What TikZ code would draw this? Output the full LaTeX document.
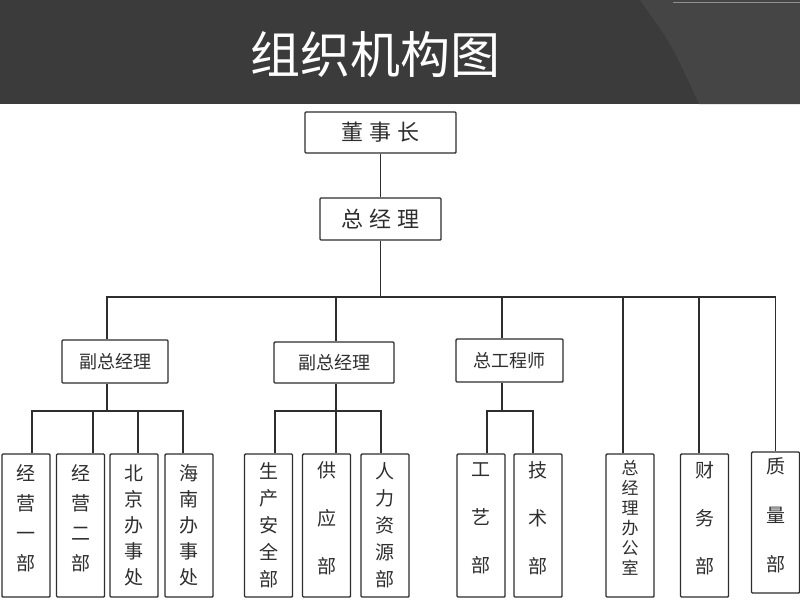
\documentclass[tikz,border=0pt]{standalone}
\usepackage{fontspec}
\setmainfont{Noto Sans CJK SC}
\usetikzlibrary{calc}
\definecolor{barbg}{HTML}{3B3B3B}
\definecolor{barhi}{HTML}{454545}
\definecolor{ink}{HTML}{2E2E2E}
\newcommand{\vsp}[2]{\fontsize{#1}{#2}\selectfont}
\tikzset{
  post/.style={draw=ink,line width=1.4pt,fill=white,inner sep=0pt,text=ink,rounded corners=1pt},
  head/.style={post,font=\vsp{22}{22}},
  vice/.style={post,font=\vsp{18}{18}},
  dept/.style={post,minimum width=48,minimum height=143,align=center,text depth=16},
  link/.style={draw=ink,line width=1.4pt},
}

\begin{document}
\begin{tikzpicture}[x=1pt,y=-1pt]
      \useasboundingbox(0,0)rectangle(800,600);
      \fill[white](0,0)rectangle(800,600);
      % title bar
      \fill[barbg](0,0)rectangle(800,104);
      \fill[barhi](640,0)..controls(672,45)..(699,104)--(800,104)--(800,0)--cycle;
      \draw[barhi!60!white,line width=0.8](673,2)--(800,2);
      \node[text=white,font=\vsp{50}{50}](title)at(375,55){组织机构图};
      % top
      \node[head,minimum width=151,minimum height=41](dsz)at(380.5,132.5){董\hspace{6pt}事\hspace{6pt}长};
      \node[head,minimum width=121,minimum height=42](zjl)at(380.5,219){总\hspace{6pt}经\hspace{6pt}理};
      \coordinate(bus)at(380.5,297);
      % second level
      \node[vice,minimum width=106,minimum height=43](fz1)at(115,361.5){副总经理};
      \node[vice,minimum width=120,minimum height=41](fz2)at(334,362.5){副总经理};
      \node[vice,minimum width=107,minimum height=43](zgc)at(509.5,360.5){总工程师};
      % departments
      \node[dept,font=\vsp{19}{30}](jy1)at(26,525.5){经\\营\\一\\部};
      \node[dept,font=\vsp{19}{30}](jy2)at(80.5,525.5){经\\营\\二\\部};
      \node[dept,font=\vsp{19}{26},text depth=2](bj)at(134,525.5){北\\京\\办\\事\\处};
      \node[dept,font=\vsp{19}{26},text depth=2](hn)at(189,525.5){海\\南\\办\\事\\处};
      \node[dept,font=\vsp{19}{27},text depth=2](sc)at(268.5,525.5){生\\产\\安\\全\\部};
      \node[dept,font=\vsp{19}{48}](gy)at(326.5,525.5){供\\应\\部};
      \node[dept,font=\vsp{19}{27},text depth=2](rl)at(385,525.5){人\\力\\资\\源\\部};
      \node[dept,font=\vsp{19}{48}](gyb)at(481,525.5){工\\艺\\部};
      \node[dept,font=\vsp{19}{48}](js)at(538,525.5){技\\术\\部};
      \node[dept,font=\vsp{17}{20}](zb)at(630,525.5){总\\经\\理\\办\\公\\室};
      \node[dept,font=\vsp{19}{48}](cw)at(704.5,525.5){财\\务\\部};
      \node[dept,font=\vsp{19}{49},minimum height=141](zl)at(775.5,522.5){质\\量\\部};
      % connectors
      \draw[link](dsz)--(zjl);
      \draw[link](zjl.south)--(bus);
      \draw[link]([xshift=-8]fz1.north)|-(bus)-|(zl.north);
      \foreach \N/\D in{fz2/2, zgc/-7.5, zb/-7, cw/-5.5}{
        \draw[link]([xshift=\D]\N.north)|-(bus);
      }
      \coordinate(b1)at(107,411);\coordinate(b2)at(336,411);\coordinate(b3)at(502,411);
      \draw[link](b1|-fz1.south)--(b1) (b2|-fz2.south)--(b2) (b3|-zgc.south)--(b3);
      \foreach \N/\D/\B in{jy1/6/b1, jy2/12.5/b1, bj/4/b1, hn/-6/b1, sc/6.5/b2, gy/9.5/b2, rl/-4/b2, gyb/6/b3, js/-5/b3}{
        \draw[link]([xshift=\D]\N.north)|-(\B);
      }
    \end{tikzpicture}
\end{document}
